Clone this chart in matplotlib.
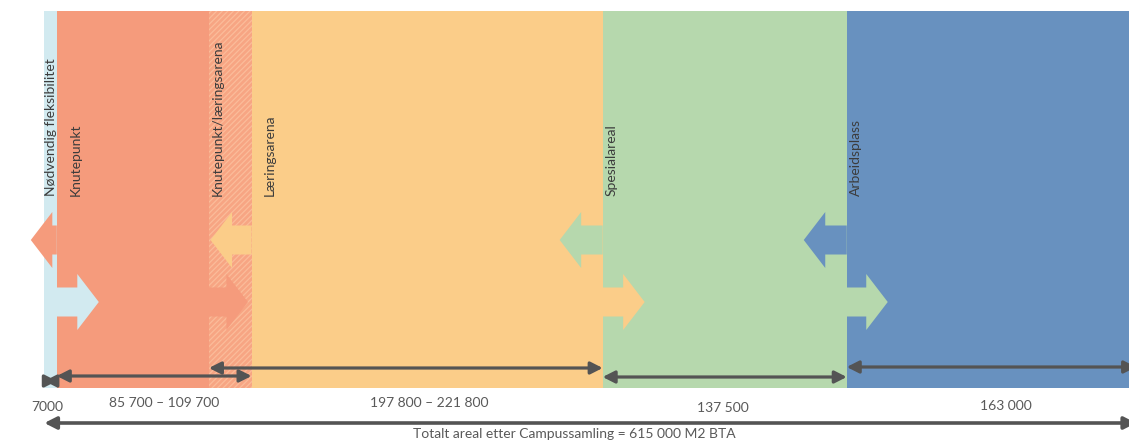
import numpy as np
import matplotlib
matplotlib.use("Agg")
import matplotlib.pyplot as plt
from matplotlib.patches import FancyArrow

# Area per zone, m2 BTA
flex_area = 7000
knutepunkt_range = (85700, 109700)
laering_range = (197800, 221800)
spesial_area = 137500
arbeid_area = 163000
total_area = 615000

zone_names = [
    "Nødvendig fleksibilitet",
    "Knutepunkt",
    "Knutepunkt/læringsarena",
    "Læringsarena",
    "Spesialareal",
    "Arbeidsplass",
]

# ---------------------------------------------------------------------------
# Layout / style
# ---------------------------------------------------------------------------

FIG_W, FIG_H = 1129, 443
X_MIN, X_MAX = -25000, 611000
PX = FIG_W / (X_MAX - X_MIN)          # pixels per m2 along x
BAND_TOP, BAND_BOTTOM = 11, 388

ZONE_COLORS = ["#d2eaf0", "#f59b7c", "#f7a583", "#fbcd89", "#b6d8ad", "#6891bf"]
HATCH_COLOR = "#fbbc9a"
TEXT_DARK = "#3c3c3c"
TEXT_GREY = "#595959"
DIM_COLOR = "#545454"
FONT = "Lato"

# rotated zone labels: offset from zone start (px)
NAME_DX = [0.5, 13, 3, 12, 3, 3]
NAME_Y = 196

# block arrows: (edge index, direction, colour index, length px)
LEFT_Y, RIGHT_Y = 240, 302
SHAFT_W, HEAD_W, HEAD_LEN = 29, 56, 21.5
BLOCK_ARROWS = [
    (1, -1, 1, 26),
    (1, +1, 0, 42),
    (2, +1, 1, 39),
    (3, -1, 3, 41),
    (4, -1, 4, 43),
    (4, +1, 3, 42),
    (5, -1, 5, 43),
    (5, +1, 4, 41),
]

# dimension arrows: y position, label y, label shift (px)
DIM_Y = [381, 376, 368, 377, 367]
DIM_LABEL_Y = [407, 403, 403, 408, 406]
DIM_LABEL_DX = [-3.5, 10, 23, -2, 14]
TOTAL_Y, TOTAL_LABEL_Y, TOTAL_LABEL_DX = 423, 434, -16


def fmt(v):
    return f"{v:,}".replace(",", " ")


def dim_arrow(ax, x0, x1, y, lw=2.3):
    ax.annotate(
        "", xy=(x1, y), xytext=(x0, y),
        arrowprops=dict(arrowstyle="<|-|>,head_length=0.55,head_width=0.28",
                        color=DIM_COLOR, lw=lw, mutation_scale=13,
                        shrinkA=0, shrinkB=0),
        zorder=5, annotation_clip=False,
    )


shared = knutepunkt_range[1] - knutepunkt_range[0]
zone_widths = [flex_area, knutepunkt_range[0], shared,
               laering_range[0], spesial_area, arbeid_area]
edges = np.concatenate([[0], np.cumsum(zone_widths)])

plt.rcParams["hatch.linewidth"] = 0.9

fig = plt.figure(figsize=(FIG_W / 100, FIG_H / 100), dpi=100)
ax = fig.add_axes([0, 0, 1, 1])
ax.set_xlim(X_MIN, X_MAX)
ax.set_ylim(FIG_H, 0)
ax.axis("off")

# zone bands
for i, (start, width) in enumerate(zip(edges[:-1], zone_widths)):
    hatched = i == 2
    ax.bar(start, BAND_BOTTOM - BAND_TOP, width=width, bottom=BAND_TOP,
           align="edge", color=ZONE_COLORS[i],
           edgecolor=HATCH_COLOR if hatched else "none",
           hatch="//////" if hatched else None, linewidth=0, zorder=1)

# block arrows showing where zones may grow
for edge_i, direction, color_i, length in BLOCK_ARROWS:
    y = LEFT_Y if direction < 0 else RIGHT_Y
    ax.add_patch(FancyArrow(
        edges[edge_i], y, direction * length / PX, 0,
        width=SHAFT_W, head_width=HEAD_W, head_length=HEAD_LEN / PX,
        length_includes_head=True, color=ZONE_COLORS[color_i],
        linewidth=0, zorder=2))

# zone names
for i, name in enumerate(zone_names):
    ax.text(edges[i] + NAME_DX[i] / PX, NAME_Y, name, rotation=90,
            ha="left", va="bottom", fontsize=10, color=TEXT_DARK,
            family=FONT, zorder=3)

# dimension arrows with area labels
dims = [
    (edges[0], edges[1], fmt(flex_area).replace(" ", "")),
    (edges[1], edges[1] + knutepunkt_range[1],
     f"{fmt(knutepunkt_range[0])} – {fmt(knutepunkt_range[1])}"),
    (edges[2], edges[2] + laering_range[1],
     f"{fmt(laering_range[0])} – {fmt(laering_range[1])}"),
    (edges[4], edges[5], fmt(spesial_area)),
    (edges[5], edges[6], fmt(arbeid_area)),
]
for (x0, x1, label), y, ly, dx in zip(dims, DIM_Y, DIM_LABEL_Y, DIM_LABEL_DX):
    dim_arrow(ax, x0, x1, y)
    ax.text((x0 + x1) / 2 + dx / PX, ly, label, ha="center", va="center",
            fontsize=10, color=TEXT_GREY, family=FONT)

dim_arrow(ax, 0, total_area, TOTAL_Y, lw=2.6)
ax.text(total_area / 2 + TOTAL_LABEL_DX / PX, TOTAL_LABEL_Y,
        f"Totalt areal etter Campussamling = {fmt(total_area)} M2 BTA",
        ha="center", va="center", fontsize=10, color=TEXT_GREY, family=FONT)

fig.savefig("out.png", dpi=100)
